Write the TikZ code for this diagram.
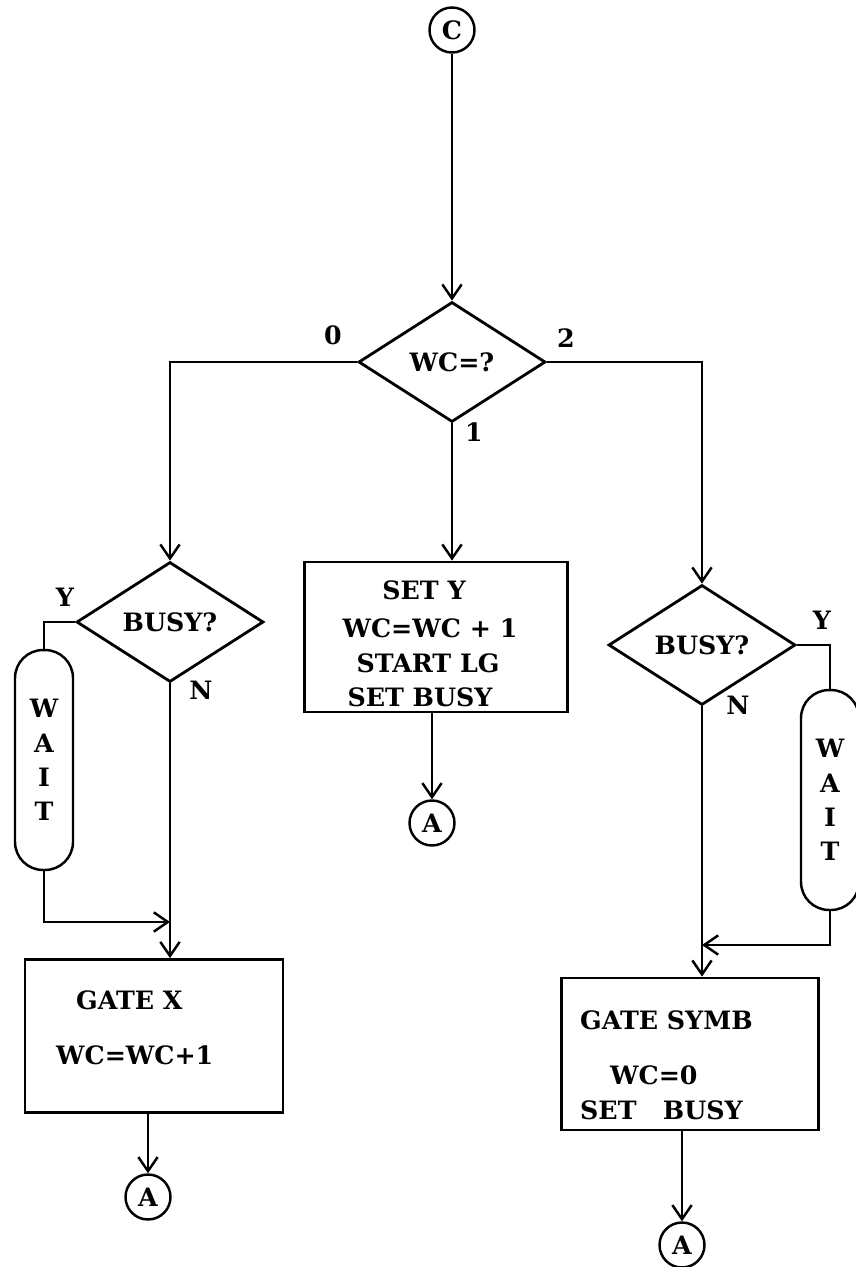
\documentclass[tikz,border=0pt]{standalone}
\usepackage{fontspec}
\setmainfont{DejaVu Serif}
\usetikzlibrary{shapes.geometric,arrows.meta}

\begin{document}
\begin{tikzpicture}[x=0.02cm,y=-0.02cm,
  decision/.style={diamond,draw,line width=1.6pt,inner sep=0pt,minimum width=3.74cm,minimum height=2.4cm},
  actbox/.style={draw,line width=1.6pt,inner sep=0pt},
  waitbox/.style={draw,line width=1.4pt,rounded corners=0.56cm,minimum width=1.16cm,minimum height=4.4cm,align=center},
  conn/.style={circle,draw,line width=1.4pt,minimum size=0.9cm,inner sep=0pt},
  flow/.style={line width=1.4pt,-{Straight Barb[length=8pt,width=11pt]}}]

\useasboundingbox (0,0) rectangle (855,1267);

\begin{scope}[font=\bfseries\Large]
% connectors
\node[conn] (c) at (452,30) {C};
\node[conn] (am) at (432,823) {A};
\node[conn] (al) at (148,1197) {A};
\node[conn] (ar) at (682,1245) {A};

% decisions
\node[decision] (wc) at (452,362) {WC=?};
\node[decision] (bl) at (170,622) {BUSY?};
\node[decision] (br) at (702,645) {BUSY?};

% wait
\node[waitbox] (wl) at (44,760) {W\\[1.5pt]A\\[1.5pt]I\\[1.5pt]T};
\node[waitbox] (wr) at (830,800) {W\\[1.5pt]A\\[1.5pt]I\\[1.5pt]T};

% boxes
\node[actbox,minimum width=5.26cm,minimum height=3cm] (sy) at (436,637) {};
\node (sya) at (424,590) {SET Y};
\node (syb) at (430,628) {WC=WC + 1};
\node (syc) at (428,663) {START LG};
\node (syd) at (420,697) {SET BUSY};

\node[actbox,minimum width=5.16cm,minimum height=3.06cm] (gx) at (154,1036) {};
\node[anchor=west] (gxa) at (70,1000) {GATE X};
\node[anchor=west] (gxb) at (50,1055) {WC=WC+1};

\node[actbox,minimum width=5.14cm,minimum height=3.04cm] (gs) at (690,1054) {};
\node[anchor=west] (gsa) at (574,1020) {GATE SYMB};
\node[anchor=west] (gsb) at (604,1075) {WC=0};
\node[anchor=west] (gsc) at (574,1110) {SET\ \ \ BUSY};

% branch labels
\node (l0) at (333,335) {0};
\node (l2) at (566,338) {2};
\node (l1) at (474,432) {1};
\node (ly1) at (65,597) {Y};
\node (ln1) at (201,690) {N};
\node (ly2) at (822,620) {Y};
\node (ln2) at (738,705) {N};
\end{scope}

\coordinate (jl) at (bl.south |- 0,922);
\coordinate (jr) at (br.south |- 0,945);

\begin{scope}[flow]
\draw (c) -- (wc);
\draw (wc.west) -| (bl.north);
\draw (wc.east) -| (br.north);
\draw (wc.south) -- (wc.south |- sy.north);
\draw (bl.south) -- (bl.south |- gx.north);
\draw (br.south) -- (br.south |- gs.north);
\draw (wl.south) |- (jl);
\draw (wr.south) |- (jr);
\draw (am |- sy.south) -- (am);
\draw (al |- gx.south) -- (al);
\draw (ar |- gs.south) -- (ar);
\end{scope}

\begin{scope}[line width=1.4pt]
\draw (bl.west) -| (wl.north);
\draw (br.east) -| (wr.north);
\end{scope}

\end{tikzpicture}
\end{document}
